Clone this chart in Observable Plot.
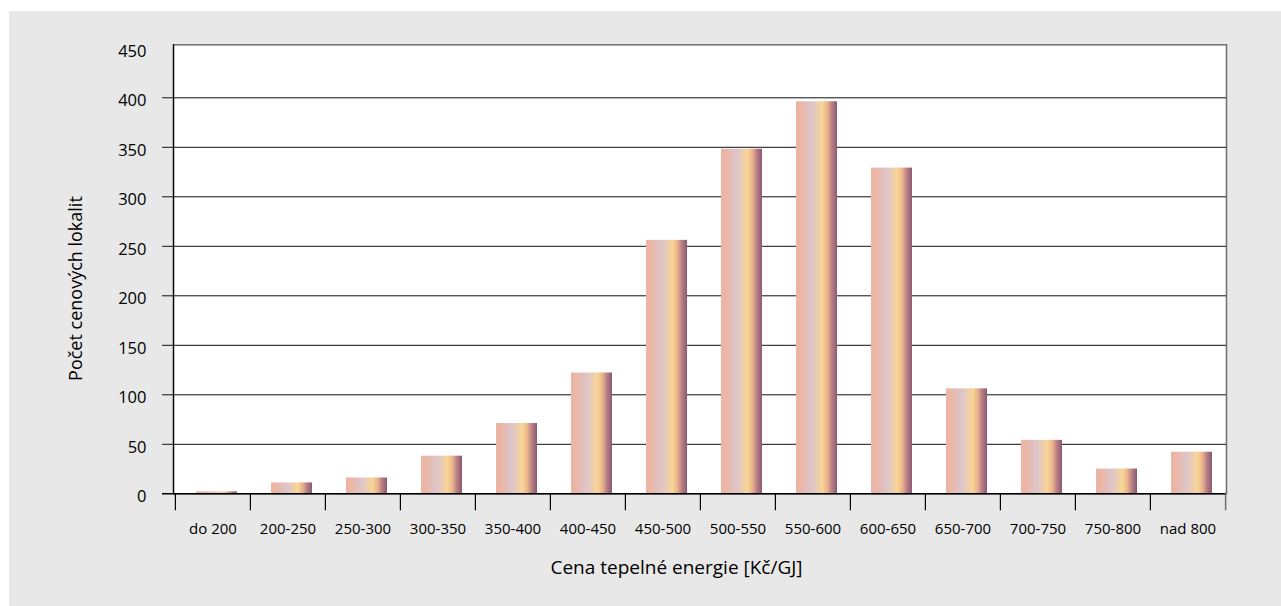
<!DOCTYPE html>
<html>
<head>
<meta charset="utf-8">
<script src="https://cdn.jsdelivr.net/npm/d3@7"></script>
<script src="https://cdn.jsdelivr.net/npm/@observablehq/plot@0.6"></script>
<style>
  html, body { margin: 0; padding: 0; background: #ffffff; }
  #panel { position: absolute; left: 9px; top: 11px; width: 1272px; height: 595px; background: #e8e8e8; overflow: hidden; }
</style>
</head>
<body>
<div id="panel"></div>
<script>
// ---- data ----
const categories = ["do 200", "200-250", "250-300", "300-350", "350-400", "400-450", "450-500",
                    "500-550", "550-600", "600-650", "650-700", "700-750", "750-800", "nad 800"];
const counts = [2, 11, 16, 38, 71, 122, 256, 348, 396, 329, 106, 54, 25, 42];
const yTicks = [0, 50, 100, 150, 200, 250, 300, 350, 400, 450];
const xTitle = "Cena tepelné energie [Kč/GJ]";
const yTitle = "Počet cenových lokalit";

const data = categories.map((c, i) => ({category: c, count: counts[i]}));

// ---- layout ----
const W = 1272, H = 595, ML = 164, MR = 55, MT = 36.8, MB = 112.7;
const step = (W - ML - MR) / categories.length;
const below = 17.2; // tick length below axis, in y units (~0.99 px/unit)

const chart = Plot.plot({
  width: W, height: H,
  marginLeft: ML, marginRight: MR, marginTop: MT, marginBottom: MB,
  style: {background: "transparent", fontFamily: "'Open Sans', sans-serif", color: "#000", overflow: "visible"},
  x: {domain: categories, paddingInner: 0.455, paddingOuter: 0.2275, label: null},
  y: {domain: [0, 450], label: null},
  marks: [
    Plot.frame({fill: "white", stroke: "#6e6e6e", strokeWidth: 1.5, insetTop: -3.5}),
    Plot.ruleY(yTicks.filter(t => t > 0 && t < 450), {stroke: "#111", insetLeft: -11}),
    Plot.barY(data, {x: "category", y: "count", fill: "url(#barGrad)", dx: 4}),
    Plot.ruleY([0], {stroke: "#000", strokeWidth: 1.5, insetLeft: -11}),
    Plot.frame({anchor: "left", stroke: "#000", strokeWidth: 1.2, insetTop: -3.5}),
    Plot.ruleX(categories, {x: d => d, dx: -step / 2, y1: 0, y2: -below, stroke: "#000", strokeWidth: 1.2}),
    Plot.ruleX([categories[categories.length - 1]], {x: d => d, dx: step / 2, y1: 0, y2: -below, stroke: "#6e6e6e", strokeWidth: 1.5}),
    Plot.axisY(yTicks, {tickSize: 0, tickPadding: 27, fontSize: 16.5, dy: 3, label: null}),
    Plot.axisX({tickSize: 0, tickPadding: 30, fontSize: 15, label: null}),
    Plot.text([yTitle], {frameAnchor: "left", textAnchor: "middle", lineAnchor: "middle", rotate: -90, dx: -97, dy: 17.5, fontSize: 18}),
    Plot.text([xTitle], {frameAnchor: "bottom", textAnchor: "middle", lineAnchor: "bottom", dx: -23.5, dy: 80.5, fontSize: 19})
  ]
});

// gradient definition for the bars
const defs = d3.select(chart).insert("defs", ":first-child");
const g = defs.append("linearGradient").attr("id", "barGrad")
  .attr("x1", "0").attr("x2", "1").attr("y1", "0").attr("y2", "0");
[
  [0.00, "#ecb5a4"],
  [0.15, "#ebb7a8"],
  [0.37, "#dcc5cb"],
  [0.50, "#e9cbb6"],
  [0.65, "#f8d694"],
  [0.77, "#eab18c"],
  [0.87, "#b98285"],
  [1.00, "#8c5873"]
].forEach(([o, c]) => g.append("stop").attr("offset", o).attr("stop-color", c));

document.getElementById("panel").appendChild(chart);
</script>
</body>
</html>
